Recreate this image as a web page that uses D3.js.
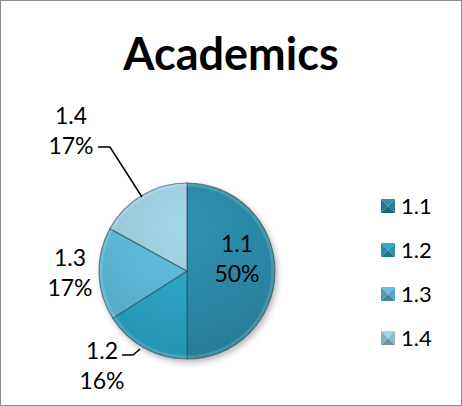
<!DOCTYPE html>
<html>
<head>
<meta charset="utf-8">
<script src="https://cdn.jsdelivr.net/npm/d3@7"></script>
<style>
  body { margin: 0; background: #fff; }
  svg { display: block; font-family: Lato, "Open Sans", sans-serif; }
</style>
</head>
<body>
<svg id="chart" width="462" height="406"></svg>
<script>
// Chart data
const categories = ["1.1", "1.2", "1.3", "1.4"];
const values = [50, 16, 17, 17];
const pctLabels = ["50%", "16%", "17%", "17%"];
const colors = ["#2b86a3", "#2aa0be", "#5ab3d1", "#99c8da"];

const width = 462, height = 406;
const cx = 187, cy = 271, r = 88;

const svg = d3.select("#chart");

// outer frame
svg.append("rect")
    .attr("x", 0.5).attr("y", 0.5)
    .attr("width", width - 1).attr("height", height - 1)
    .attr("fill", "#fff")
    .attr("stroke", "#8c8c8c");

// title
svg.append("text")
    .attr("x", 231).attr("y", 70)
    .attr("text-anchor", "middle")
    .attr("font-size", 45)
    .attr("font-weight", "bold")
    .attr("fill", "#000")
    .text("Academics");

// gradients per slice (lighter top, slightly darker bottom)
const defs = svg.append("defs");
colors.forEach((c, i) => {
    const g = defs.append("radialGradient")
        .attr("id", "grad" + i)
        .attr("gradientUnits", "userSpaceOnUse")
        .attr("cx", 0).attr("cy", -r * 0.5).attr("r", r * 1.6);
    g.append("stop").attr("offset", "0%").attr("stop-color", d3.color(c).brighter(0.2));
    g.append("stop").attr("offset", "55%").attr("stop-color", c);
    g.append("stop").attr("offset", "100%").attr("stop-color", d3.color(c).darker(0.25));
});

// soft shadow
const filt = defs.append("filter").attr("id", "shadow")
    .attr("x", "-20%").attr("y", "-20%").attr("width", "140%").attr("height", "140%");
filt.append("feGaussianBlur").attr("in", "SourceAlpha").attr("stdDeviation", 3);
filt.append("feOffset").attr("dx", 2).attr("dy", 3).attr("result", "b");
filt.append("feComponentTransfer").append("feFuncA").attr("type", "linear").attr("slope", 0.3);
const merge = filt.append("feMerge");
merge.append("feMergeNode");
merge.append("feMergeNode").attr("in", "SourceGraphic");

const pie = d3.pie().sort(null).value(d => d)(values);
const arc = d3.arc().innerRadius(0).outerRadius(r);

const pieG = svg.append("g")
    .attr("transform", `translate(${cx},${cy})`)
    .attr("filter", "url(#shadow)");

pieG.selectAll("path.slice")
    .data(pie)
    .join("path")
    .attr("class", "slice")
    .attr("d", arc)
    .attr("fill", (d, i) => `url(#grad${i})`)
    .attr("stroke", "rgba(50,70,80,0.6)")
    .attr("stroke-width", 1.2);

// inner bevel highlight ring
pieG.append("circle")
    .attr("r", r - 2)
    .attr("fill", "none")
    .attr("stroke", "rgba(255,255,255,0.15)")
    .attr("stroke-width", 3);

// data labels
const labelPos = [
    { x: 237, y: 252 },
    { x: 102, y: 359 },
    { x: 70, y: 266 },
    { x: 71, y: 124 }
];
const labelG = svg.append("g");
pie.forEach((d, i) => {
    const p = labelPos[i];
    const t = labelG.append("text")
        .attr("x", p.x).attr("y", p.y)
        .attr("text-anchor", "middle")
        .attr("font-size", 23)
        .attr("fill", "#000");
    t.append("tspan").attr("x", p.x).attr("dy", 0).text(categories[i]);
    t.append("tspan").attr("x", p.x).attr("dy", 30).text(pctLabels[i]);
});

// leader lines
const leaders = [
    [[98, 147], [110, 147], [142, 197]],
    [[122, 355], [133, 355], [140, 349]]
];
svg.append("g").selectAll("path")
    .data(leaders)
    .join("path")
    .attr("d", d => d3.line()(d))
    .attr("fill", "none")
    .attr("stroke", "#000")
    .attr("stroke-width", 1.5);

// legend
const legY = d3.scalePoint().domain(categories).range([206, 338]);
const legend = svg.append("g");
categories.forEach((c, i) => {
    const y = legY(c);
    const s = 14, x0 = 381, y0 = y - 7;
    const base = d3.color(colors[i]);
    // pyramid style marker: four triangles
    const tris = [
        { pts: [[x0, y0], [x0 + s, y0], [x0 + s / 2, y0 + s / 2]], col: base.brighter(0.2) },
        { pts: [[x0 + s, y0], [x0 + s, y0 + s], [x0 + s / 2, y0 + s / 2]], col: base.darker(0.2) },
        { pts: [[x0, y0 + s], [x0 + s, y0 + s], [x0 + s / 2, y0 + s / 2]], col: base.darker(0.9) },
        { pts: [[x0, y0], [x0, y0 + s], [x0 + s / 2, y0 + s / 2]], col: base.darker(0.35) }
    ];
    tris.forEach(t => {
        legend.append("path")
            .attr("d", d3.line()(t.pts) + "Z")
            .attr("fill", t.col);
    });
    legend.append("text")
        .attr("x", 401).attr("y", y + 8)
        .attr("font-size", 22)
        .attr("fill", "#000")
        .text(c);
});
</script>
</body>
</html>
